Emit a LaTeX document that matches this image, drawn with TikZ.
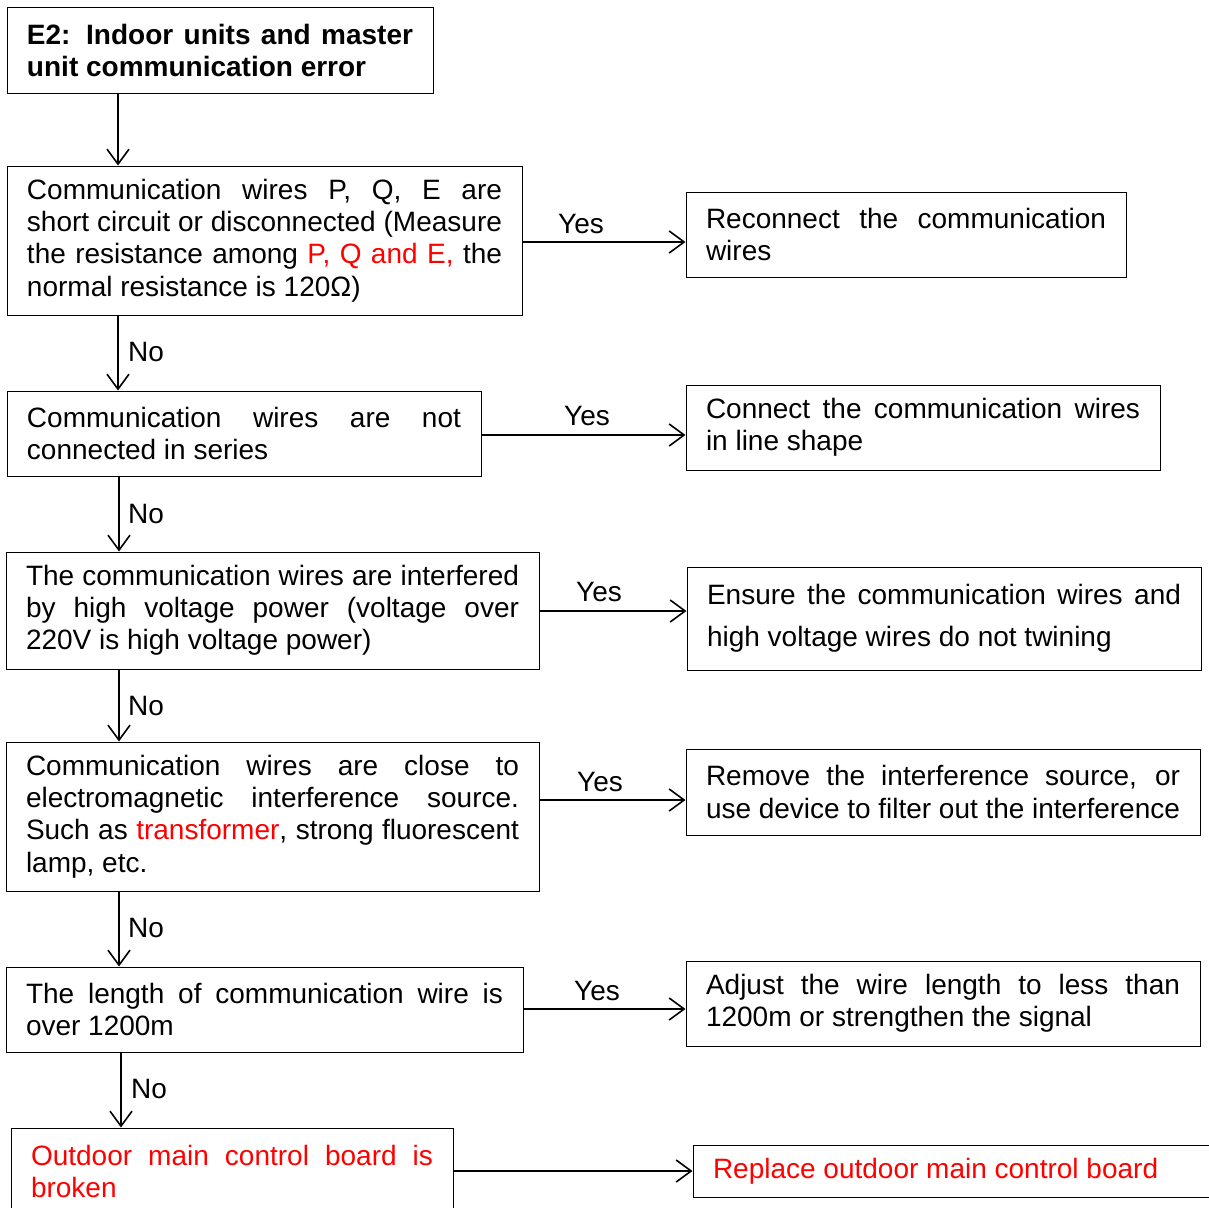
\documentclass[tikz,border=0pt]{standalone}
\usepackage{fontspec}
\setmainfont{Liberation Sans}
\usetikzlibrary{arrows.meta}
\newcommand{\nohyph}{\hyphenpenalty=10000\relax\exhyphenpenalty=10000\relax}
\begin{document}
\begin{tikzpicture}[x=1pt,y=-1pt,
  box/.style={draw=black,line width=1pt,inner xsep=20pt,inner ysep=0pt,align=justify,
    font=\fontsize{28}{32.2}\selectfont\nohyph},
  arr/.style={line width=1.6pt,-{Straight Barb[length=15pt,width=22pt,line width=1.6pt]}},
  lbl/.style={font=\fontsize{28}{32.2}\selectfont,inner sep=0pt}]
\useasboundingbox (0,0) rectangle (1209,1207);
\node[box,text width=386pt,minimum height=85pt] (n1) at (220,50.5)
  {\textbf{E2: Indoor units and master\linebreak unit communication error}};
\node[box,text width=475pt,minimum height=149pt] (n2) at (264.5,240.5)
  {Communication wires P, Q, E are\linebreak short circuit or disconnected (Measure\linebreak the resistance among \textcolor{red}{P, Q and E,} the\linebreak normal resistance is 120Ω)};
\node[box,text width=400pt,minimum height=85pt] (r1) at (906,234.5)
  {Reconnect the communication\linebreak wires};
\node[box,text width=434pt,minimum height=85pt] (n3) at (244,433.5)
  {Communication wires are not\linebreak connected in series};
\node[box,text width=434pt,minimum height=85pt] (r2) at (923,427.5)
  {Connect the communication wires\linebreak in line shape};
\node[box,text width=493pt,minimum height=117pt] (n4) at (272.5,610.5)
  {The communication wires are interfered\linebreak by high voltage power (voltage over\linebreak 220V is high voltage power)};
\node[box,text width=474pt,minimum height=103pt,font=\fontsize{28}{42}\selectfont\nohyph] (r3) at (944,618.5)
  {Ensure the communication wires and\linebreak high voltage wires do not twining};
\node[box,text width=493pt,minimum height=149pt] (n5) at (272.5,816.5)
  {Communication wires are close to\linebreak electromagnetic interference source.\linebreak Such as \textcolor{red}{transformer}, strong fluorescent\linebreak lamp, etc.};
\node[box,text width=474pt,minimum height=86pt] (r4) at (943,792)
  {Remove the interference source, or\linebreak use device to filter out the interference};
\node[box,text width=477pt,minimum height=85pt] (n6) at (264.5,1009.5)
  {The length of communication wire is\linebreak over 1200m};
\node[box,text width=474pt,minimum height=85pt] (r5) at (943,1003.5)
  {Adjust the wire length to less than\linebreak 1200m or strengthen the signal};
\node[box,text width=402pt,minimum height=87pt,text=red] (n7) at (232,1171.5)
  {Outdoor main control board is\linebreak broken};
\node[box,text width=507pt,minimum height=52pt,text=red] (r6) at (966.5,1171)
  {Replace outdoor main control board};
% helper coordinates
\coordinate (v1) at (118,0);
\coordinate (v2) at (119,0);
\coordinate (v3) at (121,0);
\coordinate (h1) at (0,242);
\coordinate (h2) at (0,435);
\coordinate (h3) at (0,611);
\coordinate (h4) at (0,800);
\coordinate (h5) at (0,1009);
\coordinate (h6) at (0,1171);
% vertical arrows
\draw[arr] (n1.south -| v1) -- (n2.north -| v1);
\draw[arr] (n2.south -| v1) -- (n3.north -| v1);
\draw[arr] (n3.south -| v2) -- (n4.north -| v2);
\draw[arr] (n4.south -| v2) -- (n5.north -| v2);
\draw[arr] (n5.south -| v2) -- (n6.north -| v2);
\draw[arr] (n6.south -| v3) -- (n7.north -| v3);
% horizontal arrows
\draw[arr] (n2.east |- h1) -- (r1.west |- h1);
\draw[arr] (n3.east |- h2) -- (r2.west |- h2);
\draw[arr] (n4.east |- h3) -- (r3.west |- h3);
\draw[arr] (n5.east |- h4) -- (r4.west |- h4);
\draw[arr] (n6.east |- h5) -- (r5.west |- h5);
\draw[arr] (n7.east |- h6) -- (r6.west |- h6);
% labels
\node[lbl,anchor=west] (no1) at (128,352) {No};
\node[lbl,anchor=west] (no2) at (128,514) {No};
\node[lbl,anchor=west] (no3) at (128,706) {No};
\node[lbl,anchor=west] (no4) at (128,928) {No};
\node[lbl,anchor=west] (no5) at (131,1089) {No};
\node[lbl] (y1) at (581,224) {Yes};
\node[lbl] (y2) at (587,416) {Yes};
\node[lbl] (y3) at (599,592) {Yes};
\node[lbl] (y4) at (600,782) {Yes};
\node[lbl] (y5) at (597,991) {Yes};
\end{tikzpicture}
\end{document}
